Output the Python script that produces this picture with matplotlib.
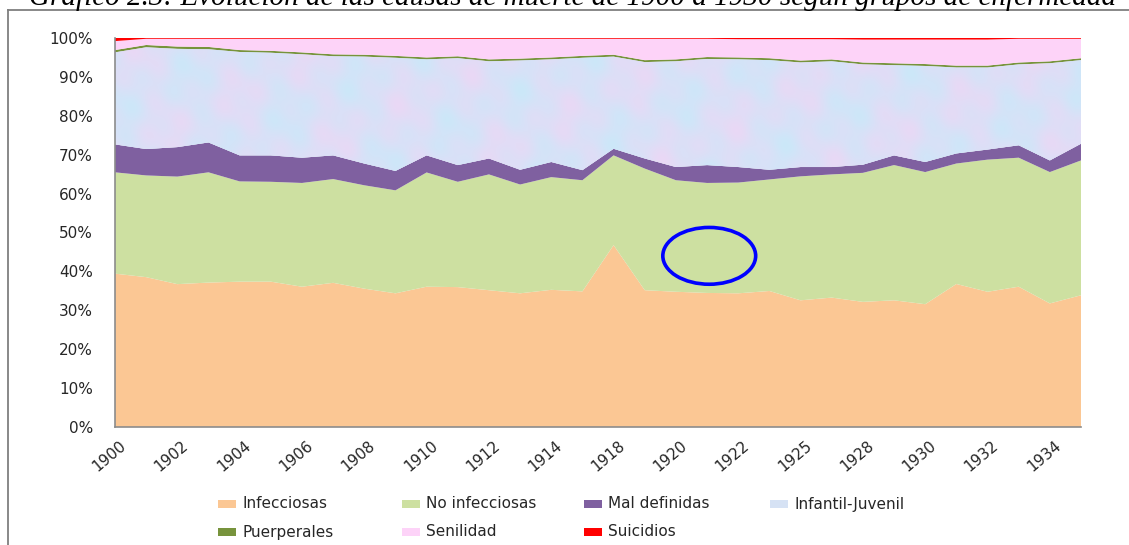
import matplotlib
matplotlib.use("Agg")
import matplotlib.pyplot as plt
import matplotlib.transforms as mtransforms
from matplotlib.patches import Ellipse, Rectangle
from matplotlib.lines import Line2D
import numpy as np

# Categories (years present in the source table)
years = [1900, 1901, 1902, 1903, 1904, 1905, 1906, 1907, 1908, 1909,
         1910, 1911, 1912, 1913, 1914, 1915, 1918, 1919, 1920, 1921,
         1922, 1924, 1925, 1926, 1928, 1929, 1930, 1931, 1932, 1933,
         1934, 1935]

# Share of deaths by group (%)
infecciosas = [39.5, 38.6, 36.8, 37.2, 37.4, 37.4, 36.1, 37.1, 35.6, 34.4,
               36.1, 36.0, 35.2, 34.4, 35.3, 34.9, 46.8, 35.2, 34.8, 34.5,
               34.4, 35.0, 32.6, 33.3, 32.2, 32.6, 31.6, 36.8, 34.8, 36.1,
               31.8, 33.9]
no_infecciosas = [26.1, 26.2, 27.7, 28.4, 25.8, 25.7, 26.7, 26.7, 26.6, 26.5,
                  29.4, 27.1, 29.8, 28.0, 29.0, 28.6, 23.1, 31.3, 28.7, 28.3,
                  28.5, 28.7, 31.9, 31.7, 33.2, 34.8, 34.0, 31.0, 34.0, 33.2,
                  33.8, 34.7]
mal_definidas = [7.2, 6.8, 7.6, 7.7, 6.7, 6.8, 6.5, 6.1, 5.6, 5.0,
                 4.4, 4.3, 4.1, 3.8, 3.9, 2.6, 1.7, 2.6, 3.4, 4.6,
                 4.0, 2.5, 2.4, 1.9, 2.1, 2.5, 2.6, 2.6, 2.6, 3.2,
                 3.0, 4.3]
infantil_juvenil = [23.7, 26.2, 25.3, 24.0, 26.6, 26.4, 26.6, 25.5, 27.5, 29.1,
                    24.7, 27.5, 25.0, 28.1, 26.4, 28.9, 23.7, 24.8, 27.2, 27.3,
                    27.7, 28.2, 26.9, 27.2, 25.8, 23.2, 24.7, 22.1, 21.1, 20.8,
                    25.0, 21.5]
puerperales = [0.6, 0.6, 0.6, 0.6, 0.5, 0.5, 0.5, 0.5, 0.5, 0.5,
               0.5, 0.5, 0.5, 0.5, 0.5, 0.5, 0.5, 0.5, 0.5, 0.5,
               0.5, 0.5, 0.5, 0.5, 0.5, 0.5, 0.5, 0.5, 0.5, 0.5,
               0.5, 0.5]
senilidad = [2.3, 1.6, 2.0, 2.1, 2.9, 3.1, 3.5, 4.0, 4.1, 4.4,
             4.8, 4.5, 5.3, 5.1, 4.8, 4.4, 4.1, 5.5, 5.3, 4.7,
             4.7, 4.9, 5.5, 5.2, 5.9, 6.1, 6.3, 6.7, 6.7, 6.1,
             5.8, 5.0]
suicidios = [0.8, 0.2, 0.2, 0.2, 0.2, 0.2, 0.2, 0.2, 0.2, 0.2,
             0.2, 0.2, 0.2, 0.2, 0.2, 0.2, 0.2, 0.2, 0.2, 0.2,
             0.3, 0.3, 0.3, 0.3, 0.4, 0.4, 0.4, 0.4, 0.4, 0.2,
             0.2, 0.2]

labels = ["Infecciosas", "No infecciosas", "Mal definidas", "Infantil-Juvenil",
          "Puerperales", "Senilidad", "Suicidios"]
colors = ["#fbc794", "#cde0a1", "#7f60a0", "#d6e2f4",
          "#77933c", "#fdd3f8", "#ff0000"]

series = np.array([infecciosas, no_infecciosas, mal_definidas, infantil_juvenil,
                   puerperales, senilidad, suicidios], dtype=float)
series = series / series.sum(axis=0) * 100  # 100% stacked
x = np.arange(len(years))

W, H = 1129, 545
fig = plt.figure(figsize=(W / 100, H / 100), dpi=100)
ax = fig.add_axes([115 / W, 1 - 427 / H, (1081 - 115) / W, (427 - 38) / H])

polys = ax.stackplot(x, series, colors=colors, linewidth=0)

# Excel-like mottled texture for the Infantil-Juvenil band
gx, gy = np.meshgrid(np.linspace(0, 60, 480), np.linspace(0, 14, 120))
t = (np.sin(gx * 0.9 + gy * 0.5) * np.cos(gy * 1.3 - gx * 0.35)
     + 0.6 * np.sin(gx * 2.3 - gy * 1.7) * np.sin(gy * 2.9 + gx * 0.6))
t = (t - t.min()) / (t.max() - t.min())
blue = np.array([203, 232, 249]) / 255
pink = np.array([234, 216, 245]) / 255
tex = blue[None, None, :] * (1 - t[..., None]) + pink[None, None, :] * t[..., None]
im = ax.imshow(tex, extent=(0, len(years) - 1, 0, 100), aspect="auto",
               interpolation="bilinear", zorder=polys[3].get_zorder() + 0.1)
im.set_clip_path(polys[3].get_paths()[0], ax.transData)

ax.set_xlim(0, len(years) - 1)
ax.set_ylim(0, 100)
ax.set_yticks(range(0, 101, 10))
ax.set_yticklabels([f"{v}%" for v in range(0, 101, 10)])
ax.set_xticks(x[::2])
ax.set_xticklabels([str(y) for y in years[::2]], rotation=40,
                   ha="right", va="center", rotation_mode="anchor")
ax.tick_params(axis="both", length=0, labelsize=11, colors="#262626")
ax.tick_params(axis="y", pad=16)
ax.tick_params(axis="x", pad=12)
offset = mtransforms.ScaledTranslation(0.09, 0, fig.dpi_scale_trans)
for lab in ax.get_xticklabels():
    lab.set_transform(lab.get_transform() + offset)

for side in ["top", "right"]:
    ax.spines[side].set_visible(False)
for side in ["left", "bottom"]:
    ax.spines[side].set_color("#8c8c8c")
    ax.spines[side].set_linewidth(1.2)

# blue hand-drawn highlight
ax.add_patch(Ellipse((19.07, 44.0), 2.98, 14.6, fill=False,
                     edgecolor="#0000ff", linewidth=2.6, zorder=5))

# title, partially cut by the top edge as in the original scan
fig.text(573 / W, 1 - 5 / H,
         "Gráfico 2.3: Evolución de las causas de muerte de 1900 a 1930 según grupos de enfermedad",
         ha="center", va="baseline", fontsize=21, family="Liberation Serif",
         style="italic", color="black")

# outer frame (top and left edges)
fig.add_artist(Line2D([8 / W, 1], [1 - 10 / H] * 2, color="#7f7f7f", lw=1.3,
                      transform=fig.transFigure))
fig.add_artist(Line2D([8 / W] * 2, [0, 1 - 10 / H], color="#7f7f7f", lw=1.3,
                      transform=fig.transFigure))

# legend laid out like the original (4 columns, 2 rows)
leg_cols = [218, 402, 584, 770]
leg_rows = [504, 532]
for k, (lab, col) in enumerate(zip(labels, colors)):
    r, c = divmod(k, 4)
    lx, ly = leg_cols[c], leg_rows[r]
    fig.add_artist(Rectangle((lx / W, 1 - (ly + 4) / H), 18 / W, 8 / H,
                             transform=fig.transFigure, facecolor=col,
                             edgecolor="none"))
    fig.text((lx + 24) / W, 1 - ly / H, lab, ha="left", va="center",
             fontsize=11, color="#262626")

fig.savefig("out.png", dpi=100)
